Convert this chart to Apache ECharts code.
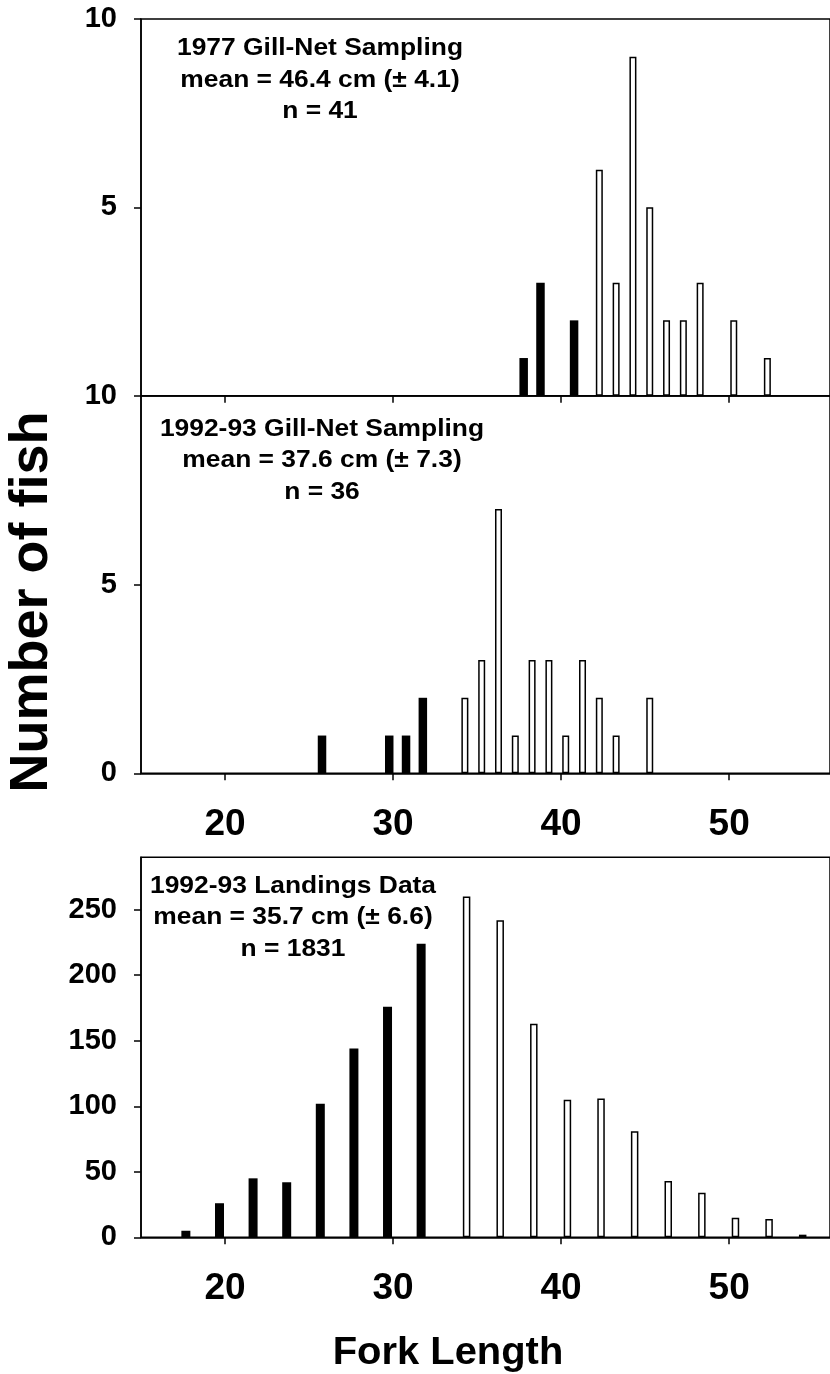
<!DOCTYPE html>
<html><head><meta charset="utf-8">
<script src="https://cdn.jsdelivr.net/npm/echarts@6/dist/echarts.min.js"></script>
<style>html,body{margin:0;padding:0;background:#fff}#c{width:830px;height:1374px}</style>
</head><body><div id="c"></div>
<script>
// ---- data ----
const xTicks = [20, 30, 40, 50];
const topYTicks = [0, 5, 10];
const topYLabels = [5, 10];
const midYTicks = [0, 5, 10];
const botYTicks = [0, 50, 100, 150, 200, 250];

const topBlackLen = [38, 39, 41];
const topBlackN   = [1, 3, 2];
const topWhiteLen = [42, 43, 44, 45, 46, 47, 48, 50, 52];
const topWhiteN   = [6, 3, 9, 5, 2, 2, 3, 2, 1];

const midBlackLen = [26, 30, 31, 32];
const midBlackN   = [1, 1, 1, 2];
const midWhiteLen = [34, 35, 36, 37, 38, 39, 40, 41, 42, 43, 45];
const midWhiteN   = [2, 3, 7, 1, 3, 3, 1, 3, 2, 1, 2];

const botBlackLen = [18, 20, 22, 24, 26, 28, 30, 32];
const botBlackN   = [5, 26, 45, 42, 102, 144, 176, 224];
const botWhiteLen = [34, 36, 38, 40, 42, 44, 46, 48, 50, 52, 54];
const botWhiteN   = [260, 242, 163, 105, 106, 81, 43, 34, 15, 14, 2];

const topText = ['1977 Gill-Net Sampling', 'mean = 46.4 cm (\u00B1 4.1)', 'n = 41'];
const midText = ['1992-93 Gill-Net Sampling', 'mean = 37.6 cm (\u00B1 7.3)', 'n = 36'];
const botText = ['1992-93 Landings Data', 'mean = 35.7 cm (\u00B1 6.6)', 'n = 1831'];
const yTitle = 'Number of fish';
const xTitle = 'Fork Length';

// ---- layout ----
const FONT = '"Liberation Sans", Arial, Helvetica, sans-serif';
const X_MIN = 15, X_MAX = 56;
const L = 141, W = 715.5;
const grids = [
  {left: L, top: 19, width: W, height: 376.7},
  {left: L, top: 395.7, width: W, height: 377.6},
  {left: L, top: 857.3, width: W, height: 380}
];
const zip = (a, b) => a.map((v, i) => [v, b[i]]);
const lineStyle = {color: '#000', width: 1.5};

function xAxis(i, labels) {
  return {
    type: 'value', gridIndex: i, min: X_MIN, max: X_MAX,
    axisLine: {show: true, lineStyle: lineStyle},
    axisTick: {show: true, length: 7, lineStyle: lineStyle, customValues: xTicks},
    axisLabel: labels ? {show: true, customValues: xTicks, margin: 33,
      color: '#000', fontSize: 37, fontWeight: 'bold', fontFamily: FONT} : {show: false},
    splitLine: {show: false}
  };
}
function yAxis(i, max, ticks, labels) {
  return {
    type: 'value', gridIndex: i, min: 0, max: max,
    axisLine: {show: true, lineStyle: lineStyle},
    axisTick: {show: true, length: 7, lineStyle: lineStyle, customValues: ticks},
    axisLabel: {show: true, customValues: labels, margin: 24,
      color: '#000', fontSize: 29, fontWeight: 'bold', fontFamily: FONT},
    splitLine: {show: false}
  };
}
function bars(i, lens, ns, black, w, gap) {
  return {
    type: 'bar', xAxisIndex: i, yAxisIndex: i, data: zip(lens, ns),
    barWidth: black ? w : w - 1.5, barGap: gap,
    itemStyle: black ? {color: '#000'} : {color: '#fff', borderColor: '#000', borderWidth: 1.5},
    silent: true, animation: false
  };
}
function textBlock(lines, cx, y0, dy) {
  return lines.map((t, k) => ({
    type: 'text', x: cx, y: y0 + k * dy, scaleX: 1.1,
    style: {text: t, fill: '#000', font: 'bold 24px ' + FONT, textAlign: 'center', textVerticalAlign: 'middle'}
  }));
}

const chart = echarts.init(document.getElementById('c'), null, {renderer: 'canvas'});
chart.setOption({
  backgroundColor: '#fff',
  animation: false,
  grid: grids.map(g => Object.assign({show: true, borderColor: '#000', borderWidth: 1.5, backgroundColor: 'transparent'}, g)),
  xAxis: [xAxis(0, false), xAxis(1, true), xAxis(2, true)],
  yAxis: [yAxis(0, 10, topYTicks, topYLabels), yAxis(1, 10, midYTicks, midYTicks), yAxis(2, 290, botYTicks, botYTicks)],
  series: [
    bars(0, topBlackLen, topBlackN, true, 8.5, '8%'),
    bars(0, topWhiteLen, topWhiteN, false, 8.5, '8%'),
    bars(1, midBlackLen, midBlackN, true, 8.5, '8%'),
    bars(1, midWhiteLen, midWhiteN, false, 8.5, '8%'),
    bars(2, botBlackLen, botBlackN, true, 9, '40%'),
    bars(2, botWhiteLen, botWhiteN, false, 9, '40%')
  ],
  graphic: [].concat(
    textBlock(topText, 320, 48.5, 31.5),
    textBlock(midText, 322, 429, 31.5),
    textBlock(botText, 293, 886, 31.5),
    [{type: 'text', x: 32, y: 602, rotation: Math.PI / 2,
      style: {text: yTitle, fill: '#000', font: 'bold 54px ' + FONT, textAlign: 'center', textVerticalAlign: 'middle'}},
     {type: 'text', x: 448, y: 1354, scaleX: 1.05,
      style: {text: xTitle, fill: '#000', font: 'bold 38px ' + FONT, textAlign: 'center', textVerticalAlign: 'middle'}}]
  )
});
</script></body></html>
